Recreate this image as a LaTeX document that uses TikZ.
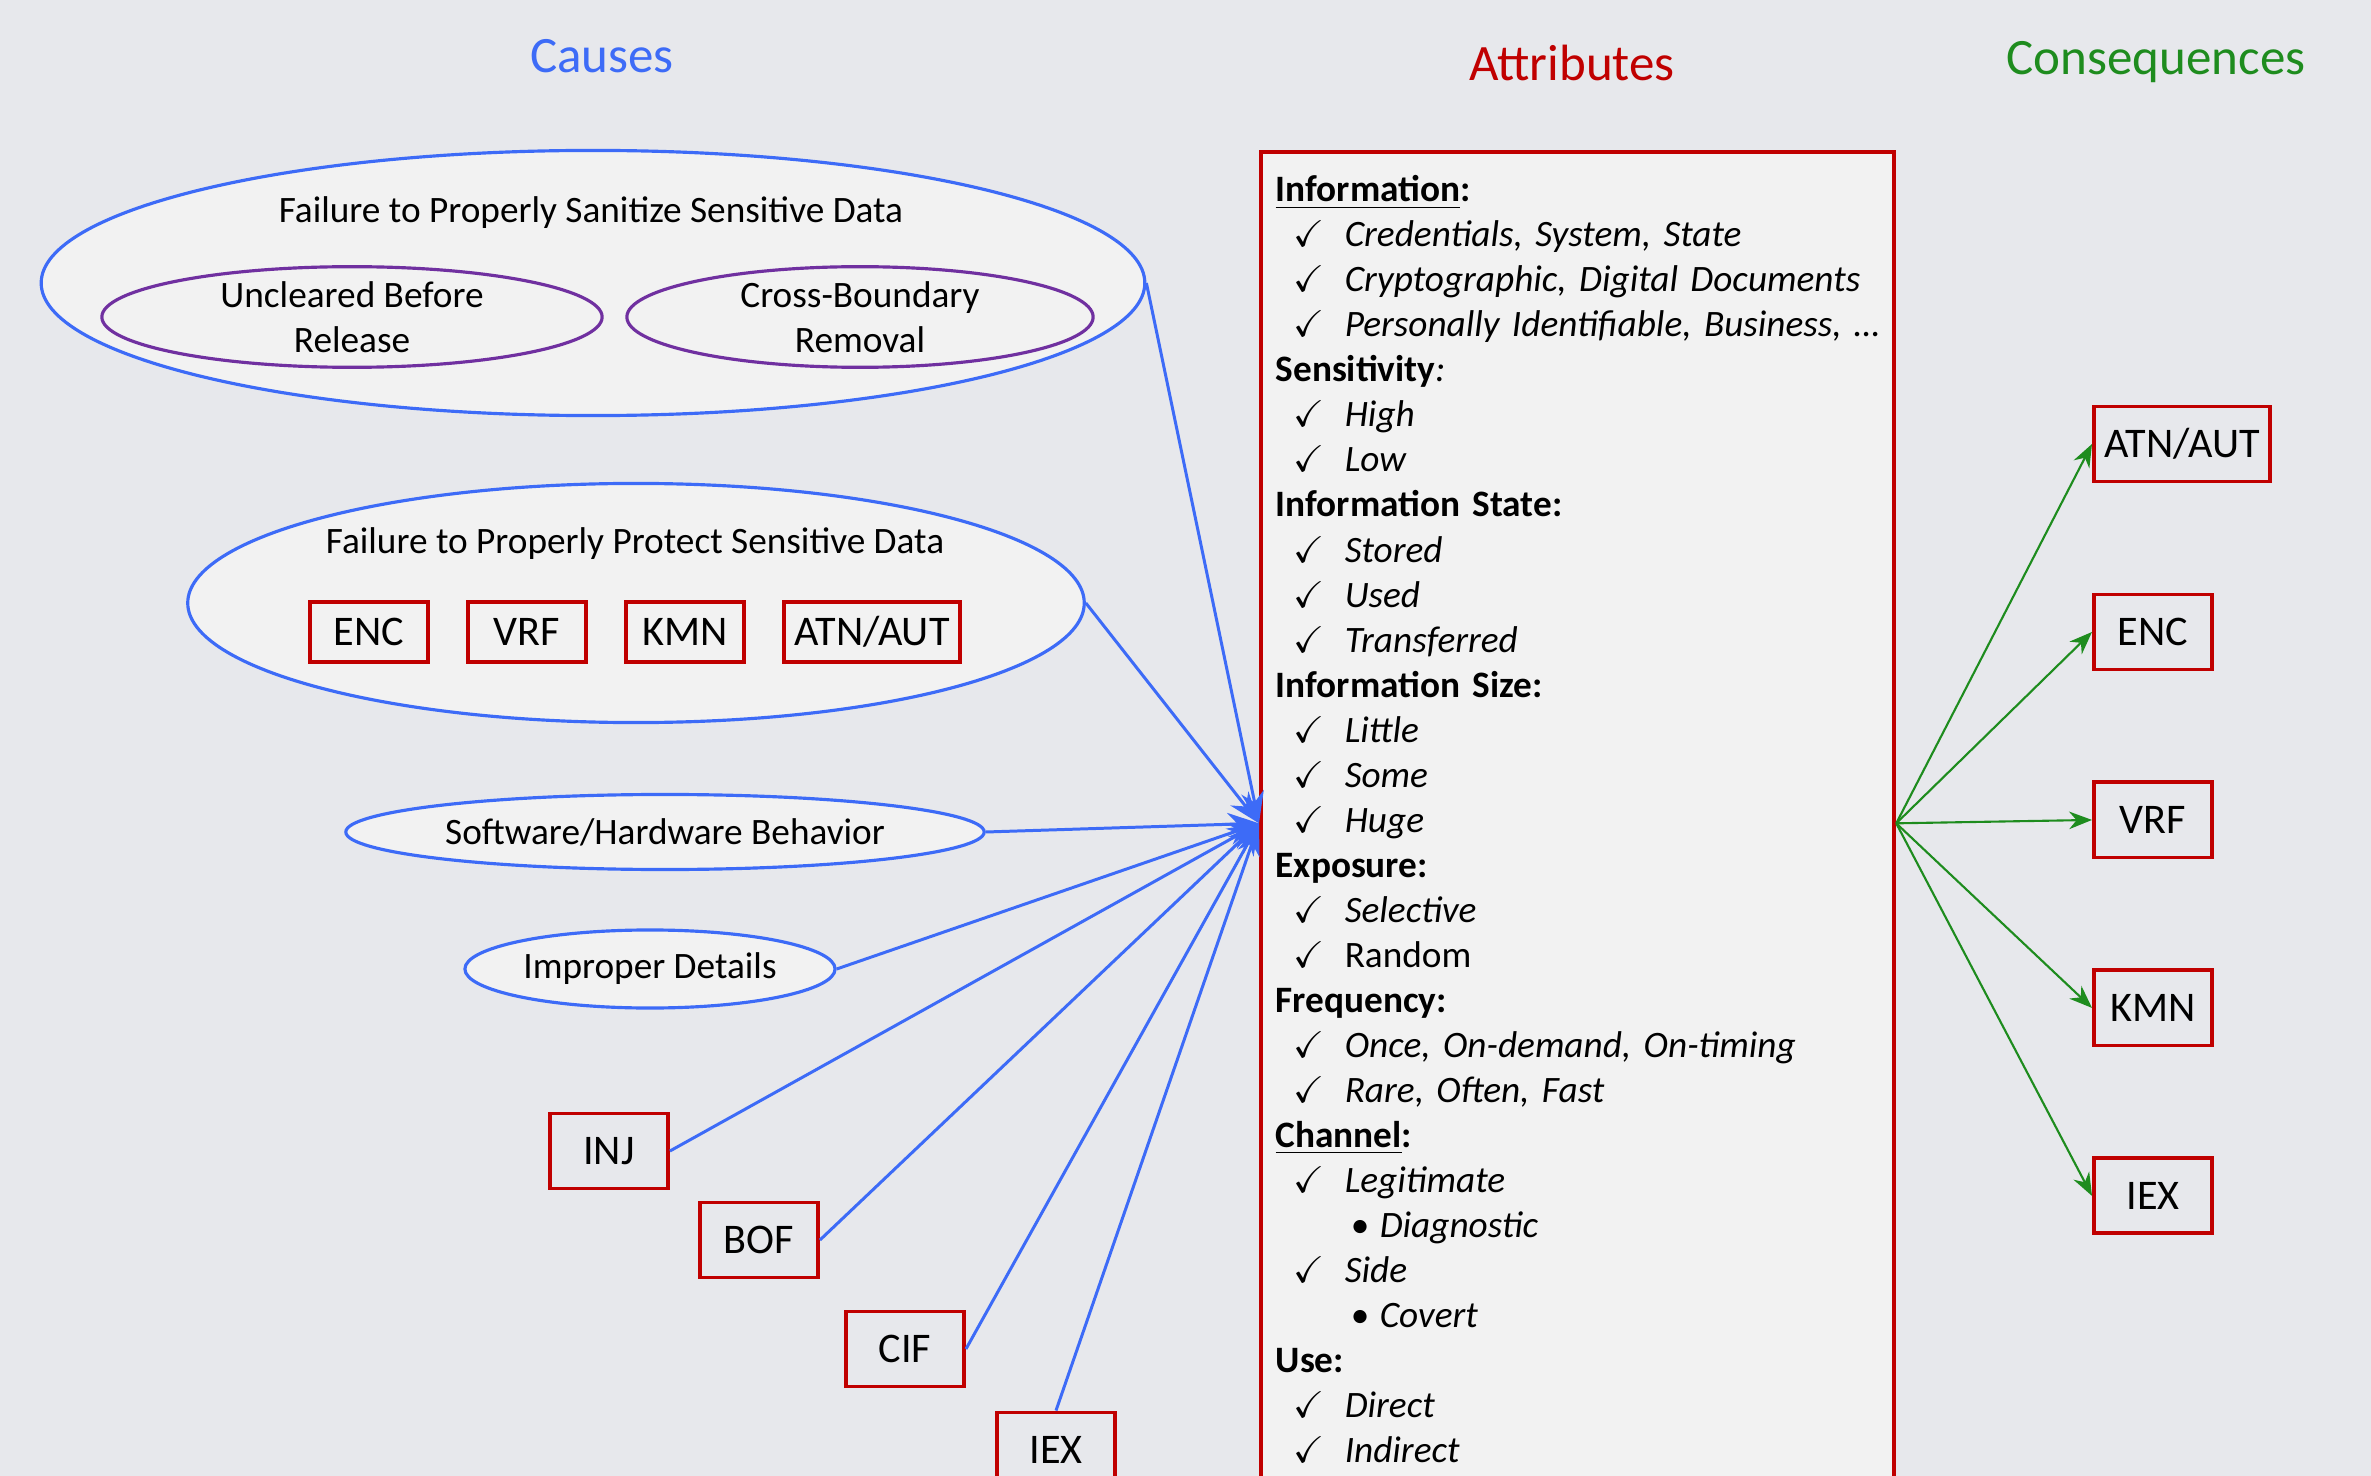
\documentclass[tikz,border=0pt]{standalone}
\usepackage{amssymb}
\usepackage{fontspec}
\setmainfont{Carlito}
\usetikzlibrary{arrows.meta,positioning,shapes.geometric}

\definecolor{bgGray}{HTML}{E7E8EC}
\definecolor{fillGray}{HTML}{F2F2F2}
\definecolor{causeBlue}{HTML}{3D6BF7}
\definecolor{boxRed}{HTML}{C00000}
\definecolor{subPurple}{HTML}{7030A0}
\definecolor{effGreen}{HTML}{1E8C1E}

\newcommand{\attritem}[1]{\hspace*{0.18cm}\makebox[0.51cm][l]{$\checkmark$}\textit{#1}}
\newcommand{\attrsub}[1]{\hspace*{0.75cm}\makebox[0.29cm][l]{\textbullet}\textit{#1}}

\begin{document}
\begin{tikzpicture}[x=0.01cm,y=-0.01cm,node distance=0.36cm,
    coltitle/.style={font=\fontsize{14.5}{17}\selectfont},
    plaintext/.style={font=\fontsize{10.6}{12.8}\selectfont,inner sep=0pt},
    ovalbox/.style={ellipse,draw=causeBlue,line width=0.9pt,fill=fillGray,inner sep=0pt,font=\fontsize{10.6}{12.8}\selectfont},
    suboval/.style={ellipse,draw=subPurple,line width=0.9pt,inner sep=0pt,align=center,font=\fontsize{10.6}{12.8}\selectfont},
    tagbox/.style={draw=boxRed,line width=1.1pt,minimum width=1.18cm,minimum height=0.75cm,inner xsep=3pt,font=\fontsize{12}{14}\selectfont},
    attrbox/.style={draw=boxRed,line width=1.1pt,fill=fillGray,inner sep=0pt},
    attrtext/.style={inner sep=0pt,text width=6.15cm,align=left,font=\fontsize{10.6}{12.8}\selectfont},
    cause/.style={->,draw=causeBlue,line width=0.85pt,>={Stealth[length=9pt,width=6.5pt]}},
    effect/.style={->,draw=effGreen,line width=0.6pt,>={Stealth[length=6.5pt,width=5pt]}}]
    \fill[bgGray] (0,0) rectangle (2371,1476);
    \useasboundingbox (0,0) rectangle (2371,1476);

    \node[coltitle,text=causeBlue] (tCause) at (602,56) {Causes};
    \node[coltitle,text=boxRed] (tAttr) at (1572,63) {Attributes};
    \node[coltitle,text=effGreen] (tCons) at (2156,62) {Consequences};

    % causes
    \node[ovalbox,minimum width=11.03cm,minimum height=2.65cm] (sanit) at (593,283) {};
    \node[plaintext] (sanitT) at (591,213) {Failure to Properly Sanitize Sensitive Data};
    \node[suboval,minimum width=5.0cm,minimum height=0.97cm] (uncl) at (352,317) {Uncleared Before\\Release};
    \node[suboval,minimum width=4.66cm,minimum height=0.97cm] (cross) at (860,317) {Cross-Boundary\\Removal};

    \node[ovalbox,minimum width=8.96cm,minimum height=2.39cm] (protc) at (636,603) {};
    \node[plaintext] (protcT) at (635,544) {Failure to Properly Protect Sensitive Data};
    \node[tagbox,minimum height=0.6cm] (pENC) at (369,632) {ENC};
    \node[tagbox,minimum height=0.6cm,right=of pENC] (pVRF) {VRF};
    \node[tagbox,minimum height=0.6cm,right=of pVRF] (pKMN) {KMN};
    \node[tagbox,minimum height=0.6cm,right=of pKMN] (pATN) {ATN/AUT};

    \node[ovalbox,minimum width=6.38cm,minimum height=0.75cm] (swhw) at (665,832) {Software/Hardware Behavior};
    \node[ovalbox,minimum width=3.7cm,minimum height=0.78cm] (impr) at (650,969) {Improper Details};

    \node[tagbox] (cINJ) at (609,1151) {INJ};
    \node[tagbox] (cBOF) at (759,1240) {BOF};
    \node[tagbox] (cCIF) at (905,1349) {CIF};
    \node[tagbox] (cIEX) at (1056,1450) {IEX};

    % attributes
    \node[attrbox,anchor=north west,minimum width=6.33cm,minimum height=13.42cm] (attr) at (1259,150) {};
    \node[attrtext,anchor=north west] (attrT) at (1275,175) {%
      \underline{\textbf{Information}}\textbf{:}\\
      \attritem{Credentials, System, State}\\
      \attritem{Cryptographic, Digital Documents}\\
      \attritem{Personally Identifiable, Business,~\dots}\\
      \textbf{Sensitivity}\textit{:}\\
      \attritem{High}\\
      \attritem{Low}\\
      \textbf{Information State:}\\
      \attritem{Stored}\\
      \attritem{Used}\\
      \attritem{Transferred}\\
      \textbf{Information Size:}\\
      \attritem{Little}\\
      \attritem{Some}\\
      \attritem{Huge}\\
      \textbf{Exposure:}\\
      \attritem{Selective}\\
      \hspace*{0.18cm}\makebox[0.51cm][l]{$\checkmark$}Random\\
      \textbf{Frequency:}\\
      \attritem{Once, On-demand, On-timing}\\
      \attritem{Rare, Often, Fast}\\
      \underline{\textbf{Channel}}\textbf{:}\\
      \attritem{Legitimate}\\
      \attrsub{Diagnostic}\\
      \attritem{Side}\\
      \attrsub{Covert}\\
      \textbf{Use:}\\
      \attritem{Direct}\\
      \attritem{Indirect}};

    % consequences
    \node[tagbox,anchor=west] (eATN) at (2092,444) {ATN/AUT};
    \node[tagbox,below=1.09cm of eATN.south west,anchor=north west] (eENC) {ENC};
    \node[tagbox,below=1.09cm of eENC.south west,anchor=north west] (eVRF) {VRF};
    \node[tagbox,below=1.09cm of eVRF.south west,anchor=north west] (eKMN) {KMN};
    \node[tagbox,below=1.09cm of eKMN.south west,anchor=north west] (eIEX) {IEX};

    \draw[cause] (sanit.east) -- (attr.west);
    \draw[cause] (protc.east) -- (attr.west);
    \draw[cause] (swhw.east) -- (attr.west);
    \draw[cause] (impr.east) -- (attr.west);
    \draw[cause] (cINJ.east) -- (attr.west);
    \draw[cause] (cBOF.east) -- (attr.west);
    \draw[cause] (cCIF.east) -- (attr.west);
    \draw[cause] (cIEX.north) -- (attr.west);

    \draw[effect] (attr.east) -- (eATN.west);
    \draw[effect] (attr.east) -- (eENC.west);
    \draw[effect] (attr.east) -- (eVRF.west);
    \draw[effect] (attr.east) -- (eKMN.west);
    \draw[effect] (attr.east) -- (eIEX.west);
  \end{tikzpicture}
\end{document}
